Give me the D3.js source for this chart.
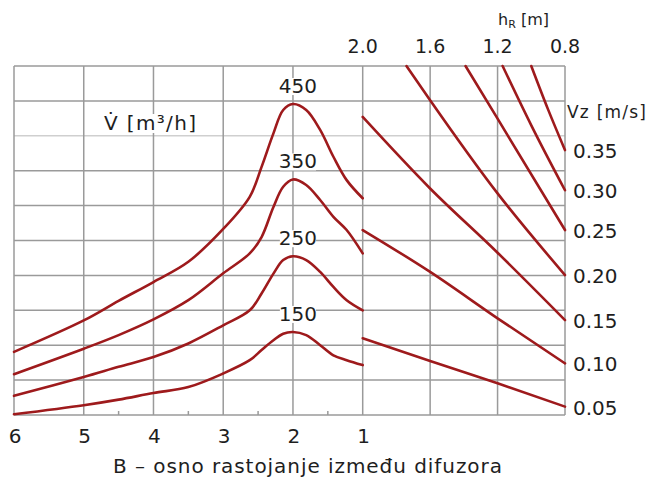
<!DOCTYPE html>
<html><head><meta charset="utf-8">
<script src="https://cdn.jsdelivr.net/npm/d3@7"></script>
<style>
html,body{margin:0;padding:0;background:#fff;}
text{font-family:"DejaVu Sans",sans-serif;fill:#1e1e1e;}
</style></head>
<body><svg id="chart" width="649" height="480"></svg>
<script>
// ---- data ----
const bTicks = [6, 5, 4, 3, 2, 1];
const bMinorTicks = [4.5, 3.5, 2.5, 1.5];
const hTicks = [2.0, 1.6, 1.2, 0.8];
const hTickLabels = ["2.0", "1.6", "1.2", "0.8"];
const gridRows = [0,1,2,3,4,5,6,7,8,9,10];

const bPoints = [6, 5, 4.5, 4, 3.5, 3, 2.62, 2.45, 2.28, 2.14, 2, 1.81, 1.61, 1.42, 1.23, 1];
const flowLabels = ["150", "250", "350", "450"];
const flow150 = [0.02, 0.28, 0.44, 0.63, 0.80, 1.19, 1.57, 1.86, 2.14, 2.33, 2.38, 2.29, 2.00, 1.71, 1.57, 1.43];
const flow250 = [0.55, 1.09, 1.38, 1.66, 2.05, 2.57, 3.00, 3.48, 4.05, 4.44, 4.55, 4.44, 4.10, 3.67, 3.29, 3.00];
const flow350 = [1.17, 1.90, 2.29, 2.74, 3.29, 4.06, 4.63, 5.10, 5.96, 6.54, 6.75, 6.59, 6.16, 5.68, 5.30, 4.63];
const flow450 = [1.81, 2.71, 3.27, 3.81, 4.39, 5.33, 6.25, 7.11, 8.07, 8.74, 8.91, 8.74, 8.17, 7.40, 6.73, 6.21];

const vzLabels = ["0.05", "0.10", "0.15", "0.20", "0.25", "0.30", "0.35"];
const vz005h = [2.0, 1.6, 1.2, 0.8], vz005u = [2.20, 1.55, 0.91, 0.24];
const vz010h = [2.0, 1.6, 1.2, 0.8], vz010u = [5.30, 4.10, 2.77, 1.48];
const vz015h = [2.0, 1.6, 1.2, 0.8], vz015u = [8.54, 6.49, 4.65, 2.72];
const vz020h = [1.74, 1.6, 1.2, 0.8], vz020u = [10, 9.02, 6.35, 4.01];
const vz025h = [1.39, 1.2, 0.8], vz025u = [10, 8.49, 5.30];
const vz030h = [1.17, 1.0, 0.8], vz030u = [10, 8.30, 6.44];
const vz035h = [1.0, 0.9, 0.8], vz035u = [10, 8.75, 7.59];

// ---- layout ----
const svg = d3.select("#chart");
const pLeft = 14, pMid = 362.7, pRight = 565, pTop = 66, pBottom = 415;
const xB = d3.scaleLinear().domain([6, 1]).range([pLeft, pMid]);
const xH = d3.scaleLinear().domain([2.0, 0.8]).range([pMid, pRight]);
const y = d3.scaleLinear().domain([0, 10]).range([pBottom, pTop]);

const gridColor = "#9a9a9a";
const lineColor = "#9e1a1c";

// grid
const g = svg.append("g");
g.selectAll(".hrow").data(gridRows).enter().append("line")
  .attr("x1", pLeft).attr("x2", pRight)
  .attr("y1", d => y(d)).attr("y2", d => y(d))
  .attr("stroke", d => d === 8 ? "#cfcfcf" : gridColor).attr("stroke-width", 1.5);
g.selectAll(".vb").data(bTicks).enter().append("line")
  .attr("x1", d => xB(d)).attr("x2", d => xB(d))
  .attr("y1", pTop).attr("y2", pBottom)
  .attr("stroke", gridColor).attr("stroke-width", 1.5);
g.selectAll(".vh").data(hTicks.slice(1)).enter().append("line")
  .attr("x1", d => xH(d)).attr("x2", d => xH(d))
  .attr("y1", pTop).attr("y2", pBottom)
  .attr("stroke", gridColor).attr("stroke-width", 1.5);
g.selectAll(".mt").data(bMinorTicks).enter().append("line")
  .attr("x1", d => xB(d)).attr("x2", d => xB(d))
  .attr("y1", pBottom).attr("y2", pBottom - 4)
  .attr("stroke", gridColor).attr("stroke-width", 1.5);

// left curves
const flows = [flow150, flow250, flow350, flow450];
const lineB = d3.line().x(d => xB(d[0])).y(d => y(d[1])).curve(d3.curveCatmullRom.alpha(0.5));
flows.forEach(arr => {
  svg.append("path").datum(bPoints.map((b, i) => [b, arr[i]]))
    .attr("d", lineB).attr("fill", "none")
    .attr("stroke", lineColor).attr("stroke-width", 2.6).attr("stroke-linecap", "round");
});

// right lines
const vzSets = [[vz005h, vz005u], [vz010h, vz010u], [vz015h, vz015u], [vz020h, vz020u],
                [vz025h, vz025u], [vz030h, vz030u], [vz035h, vz035u]];
const lineH = d3.line().x(d => xH(d[0])).y(d => y(d[1])).curve(d3.curveMonotoneX);
vzSets.forEach(([hs, us], k) => {
  svg.append("path").datum(hs.map((h, i) => [h, us[i]]))
    .attr("d", lineH).attr("fill", "none")
    .attr("stroke", lineColor).attr("stroke-width", 2.6).attr("stroke-linecap", "round");
  svg.append("text").attr("x", 573).attr("y", y(us[us.length - 1]) + 8)
    .attr("font-size", 20).text(vzLabels[k]);
});

// flow labels with white background
flows.forEach((arr, k) => {
  const peak = d3.max(arr);
  const t = svg.append("text").attr("x", xB(2) + 5).attr("y", y(peak) - 11)
    .attr("text-anchor", "middle").attr("font-size", 20).text(flowLabels[k]);
  const bb = t.node().getBBox();
  svg.insert("rect", () => t.node())
    .attr("x", bb.x + 1).attr("y", bb.y + 4).attr("width", bb.width - 2).attr("height", bb.height - 7)
    .attr("fill", "#fff");
});

// bottom tick labels
svg.selectAll(".bt").data(bTicks).enter().append("text")
  .attr("x", d => xB(d) + 1).attr("y", 443)
  .attr("text-anchor", "middle").attr("font-size", 20).text(d => d);

// top tick labels
svg.selectAll(".ht").data(hTicks).enter().append("text")
  .attr("x", d => xH(d)).attr("y", 53)
  .attr("text-anchor", "middle").attr("font-size", 19).text((d, i) => hTickLabels[i]);

// axis titles
svg.append("text").attr("x", 113).attr("y", 473).attr("font-size", 20)
  .attr("textLength", 389).attr("lengthAdjust", "spacing")
  .text("B – osno rastojanje između difuzora");

const hr = svg.append("text").attr("x", 498).attr("y", 25).attr("font-size", 16);
hr.append("tspan").text("h");
hr.append("tspan").attr("font-size", 11).attr("dy", 2.5).text("R");
hr.append("tspan").attr("dy", -2.5).text(" [m]");

svg.append("text").attr("x", 567).attr("y", 118).attr("font-size", 17)
  .attr("textLength", 79).attr("lengthAdjust", "spacing").text("Vz [m/s]");

const vl = svg.append("text").attr("x", 104).attr("y", 130).attr("font-size", 20)
  .attr("textLength", 92).attr("lengthAdjust", "spacing").text("V\u0307 [m\u00B3/h]");
const vb = vl.node().getBBox();
svg.insert("rect", () => vl.node()).attr("x", vb.x).attr("y", vb.y + 3)
  .attr("width", vb.width).attr("height", vb.height - 5).attr("fill", "#fff");
</script></body></html>
